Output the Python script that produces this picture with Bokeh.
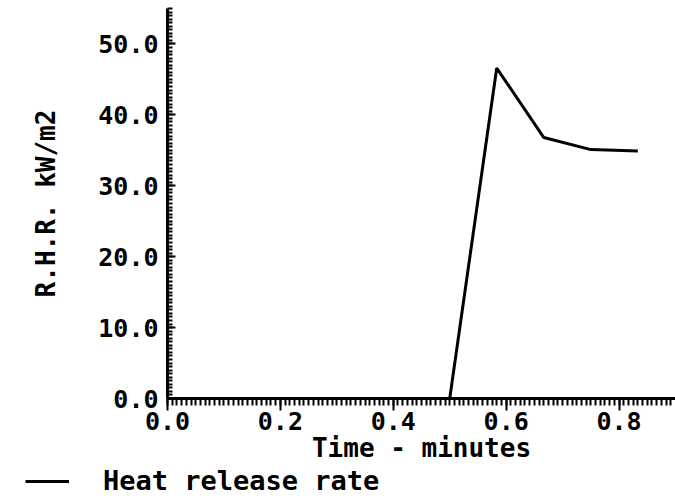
from bokeh.plotting import figure
from bokeh.layouts import column
from bokeh.models import (FixedTicker, PrintfTickFormatter, Legend, LegendItem, Range1d)
from bokeh.embed import file_html
from bokeh.resources import INLINE
import numpy as np

# Data
time_min = [0.0, 0.0833, 0.1667, 0.25, 0.3333, 0.4167, 0.5, 0.5833, 0.6667, 0.75, 0.8333]
hrr = [0.0, 0.0, 0.0, 0.0, 0.0, 0.0, 0.0, 46.6, 36.8, 35.1, 34.9]
x_ticks = [0.0, 0.2, 0.4, 0.6, 0.8]
y_ticks = [0, 10, 20, 30, 40, 50]
series_name = "Heat release rate"

FONT = "DejaVu Sans Mono"

p = figure(width=675, height=465, output_backend="svg", toolbar_location=None,
           x_range=Range1d(0, 0.9), y_range=Range1d(0, 55.0),
           min_border_left=167, min_border_right=0, min_border_top=8,
           min_border_bottom=64)
p.outline_line_color = None
p.grid.visible = False
p.background_fill_color = "white"
p.border_fill_color = "white"

r = p.line(time_min, hrr, line_color="black", line_width=3)

# x axis
xa = p.xaxis[0]
xa.ticker = FixedTicker(ticks=x_ticks,
                        minor_ticks=list(np.round(np.arange(0, 0.9, 0.2 / 24), 5)))
xa.formatter = PrintfTickFormatter(format="%.1f")
xa.axis_label = "Time - minutes"
xa.axis_label_text_font = FONT
xa.axis_label_text_font_style = "bold"
xa.axis_label_text_font_size = "26px"
xa.axis_label_text_color = "black"
xa.axis_label_standoff = 0
xa.major_label_text_font = FONT
xa.major_label_text_font_style = "bold"
xa.major_label_text_font_size = "25px"
xa.major_label_text_color = "black"
xa.major_label_text_align = "left"
xa.major_label_standoff = 1
xa.axis_line_width = 3
xa.axis_line_color = "black"
xa.major_tick_in = 0
xa.major_tick_out = 12
xa.minor_tick_in = 0
xa.minor_tick_out = 7
xa.major_tick_line_width = 2
xa.minor_tick_line_width = 2
xa.major_tick_line_color = "black"
xa.minor_tick_line_color = "black"

# y axis
ya = p.yaxis[0]
ya.ticker = FixedTicker(ticks=y_ticks,
                        minor_ticks=list(np.round(np.arange(0, 55.5, 0.5), 3)))
ya.formatter = PrintfTickFormatter(format="%.1f")
ya.axis_label = "R.H.R. kW/m2"
ya.axis_label_text_font = FONT
ya.axis_label_text_font_style = "bold"
ya.axis_label_text_font_size = "26px"
ya.axis_label_text_color = "black"
ya.axis_label_standoff = 34
ya.major_label_text_font = FONT
ya.major_label_text_font_style = "bold"
ya.major_label_text_font_size = "25px"
ya.major_label_text_color = "black"
ya.major_label_standoff = 9
ya.axis_line_width = 3
ya.axis_line_color = "black"
ya.major_tick_in = 8
ya.major_tick_out = 0
ya.minor_tick_in = 5
ya.minor_tick_out = 0
ya.major_tick_line_width = 2
ya.minor_tick_line_width = 2
ya.major_tick_line_color = "black"
ya.minor_tick_line_color = "black"

# Legend strip below the chart
p2 = figure(width=675, height=33, output_backend="svg", toolbar_location=None,
            x_range=Range1d(10, 11), y_range=Range1d(10, 11),
            min_border_left=0, min_border_right=0, min_border_top=0,
            min_border_bottom=0)
p2.axis.visible = False
p2.grid.visible = False
p2.outline_line_color = None
r2 = p2.line(time_min, hrr, line_color="black", line_width=3)

legend_x = 25
if "frame_align" in p2.properties() and "frame_align" in p.properties():
    p2.frame_align = False
    p.frame_align = False
else:
    legend_x = 25 - 167

legend = Legend(items=[LegendItem(label=series_name, renderers=[r2])],
                location=(legend_x, 2), orientation="horizontal",
                label_text_font=FONT, label_text_font_style="bold",
                label_text_font_size="27px", label_text_color="black",
                border_line_color=None, background_fill_alpha=0,
                glyph_width=44, glyph_height=20, label_height=20,
                label_standoff=34, margin=0, padding=0)
p2.add_layout(legend, "center")

layout = column(p, p2, spacing=0)
open("out.html", "w").write(file_html(layout, INLINE))
